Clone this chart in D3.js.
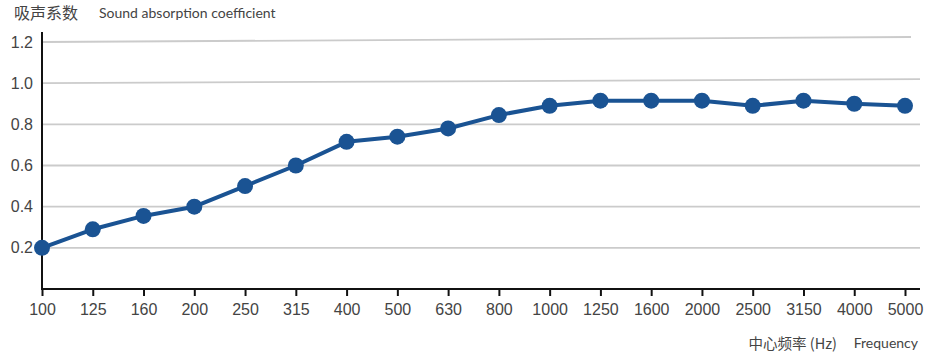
<!DOCTYPE html>
<html>
<head>
<meta charset="utf-8">
<script src="https://cdn.jsdelivr.net/npm/d3@7"></script>
<style>
    html, body { margin: 0; padding: 0; background: #fff; }
    svg { display: block; }
</style>
</head>
<body>
<svg id="chart" width="937" height="360"></svg>
<script>
// chart data
var frequencies = ["100", "125", "160", "200", "250", "315", "400", "500", "630", "800",
    "1000", "1250", "1600", "2000", "2500", "3150", "4000", "5000"];
var absorption = [0.20, 0.29, 0.355, 0.40, 0.50, 0.60, 0.715, 0.74, 0.78, 0.845,
    0.89, 0.915, 0.915, 0.915, 0.89, 0.915, 0.90, 0.89];
var yTicks = [0.2, 0.4, 0.6, 0.8, 1.0, 1.2];

var titleCn = "吸声系数";
var titleEn = "Sound absorption coefficient";
var xTitleCn = "中心频率 (Hz)";
var xTitleEn = "Frequency";

(function () {
    var svg = d3.select("#chart");
    var left = 42, right = 905, top = 42, bottom = 289;

    var x = d3.scalePoint()
        .domain(frequencies)
        .range([left, right]);

    var y = d3.scaleLinear()
        .domain([0, 1.2])
        .range([bottom, top]);

    // the picture is slightly tilted at the top: upper grid lines rise to the right
    var tilt = { "1": 4, "1.2": 5 };

    // grid lines
    svg.append("g")
        .selectAll("line")
        .data(yTicks)
        .enter().append("line")
        .attr("x1", left + 1)
        .attr("x2", function (d) { return d === 1.2 ? 911 : 920; })
        .attr("y1", function (d) { return y(d); })
        .attr("y2", function (d) { return y(d) - (tilt[String(d)] || 0); })
        .attr("stroke", "#cbcbcb")
        .attr("stroke-width", 1.8);

    // y axis
    var yAxis = svg.append("g")
        .attr("transform", "translate(" + left + ",0)")
        .call(d3.axisLeft(y).tickValues(yTicks).tickSize(0).tickPadding(9)
            .tickFormat(d3.format(".1f")));
    yAxis.select(".domain").remove();
    yAxis.selectAll("text")
        .attr("font-family", "Liberation Sans, Arial, sans-serif")
        .attr("font-size", 16)
        .attr("fill", "#444");
    svg.append("line")
        .attr("x1", left).attr("x2", left)
        .attr("y1", 32).attr("y2", bottom + 1)
        .attr("stroke", "#111")
        .attr("stroke-width", 2);

    // x axis
    var xAxis = svg.append("g")
        .attr("transform", "translate(0," + bottom + ")")
        .call(d3.axisBottom(x).tickSize(7).tickSizeOuter(0).tickPadding(8));
    xAxis.select(".domain").remove();
    xAxis.selectAll(".tick line")
        .attr("stroke", "#111")
        .attr("stroke-width", 2);
    xAxis.selectAll("text")
        .attr("font-family", "Liberation Sans, Arial, sans-serif")
        .attr("font-size", 16)
        .attr("fill", "#444");
    svg.append("line")
        .attr("x1", left - 1).attr("x2", 920)
        .attr("y1", bottom).attr("y2", bottom)
        .attr("stroke", "#111")
        .attr("stroke-width", 2);

    // series
    var points = frequencies.map(function (f, i) {
        return { f: f, v: absorption[i] };
    });

    var line = d3.line()
        .x(function (d) { return x(d.f); })
        .y(function (d) { return y(d.v); });

    svg.append("path")
        .datum(points)
        .attr("d", line)
        .attr("fill", "none")
        .attr("stroke", "#1a5393")
        .attr("stroke-width", 4)
        .attr("stroke-linejoin", "round");

    svg.append("g")
        .selectAll("circle")
        .data(points)
        .enter().append("circle")
        .attr("cx", function (d) { return x(d.f); })
        .attr("cy", function (d) { return y(d.v); })
        .attr("r", 8)
        .attr("fill", "#1a5393");

    // titles
    svg.append("text")
        .attr("x", 14).attr("y", 19)
        .attr("font-family", "Noto Sans CJK SC, sans-serif")
        .attr("font-size", 16)
        .attr("fill", "#444")
        .text(titleCn);
    svg.append("text")
        .attr("x", 99).attr("y", 18)
        .attr("font-family", "Lato, sans-serif")
        .attr("font-size", 14)
        .attr("fill", "#444")
        .text(titleEn);

    svg.append("text")
        .attr("x", 837).attr("y", 349)
        .attr("text-anchor", "end")
        .attr("font-family", "Noto Sans CJK SC, sans-serif")
        .attr("font-size", 14.5)
        .attr("fill", "#444")
        .text(xTitleCn);
    svg.append("text")
        .attr("x", 918).attr("y", 348)
        .attr("text-anchor", "end")
        .attr("font-family", "Lato, sans-serif")
        .attr("font-size", 14)
        .attr("fill", "#444")
        .text(xTitleEn);
})();
</script>
</body>
</html>
